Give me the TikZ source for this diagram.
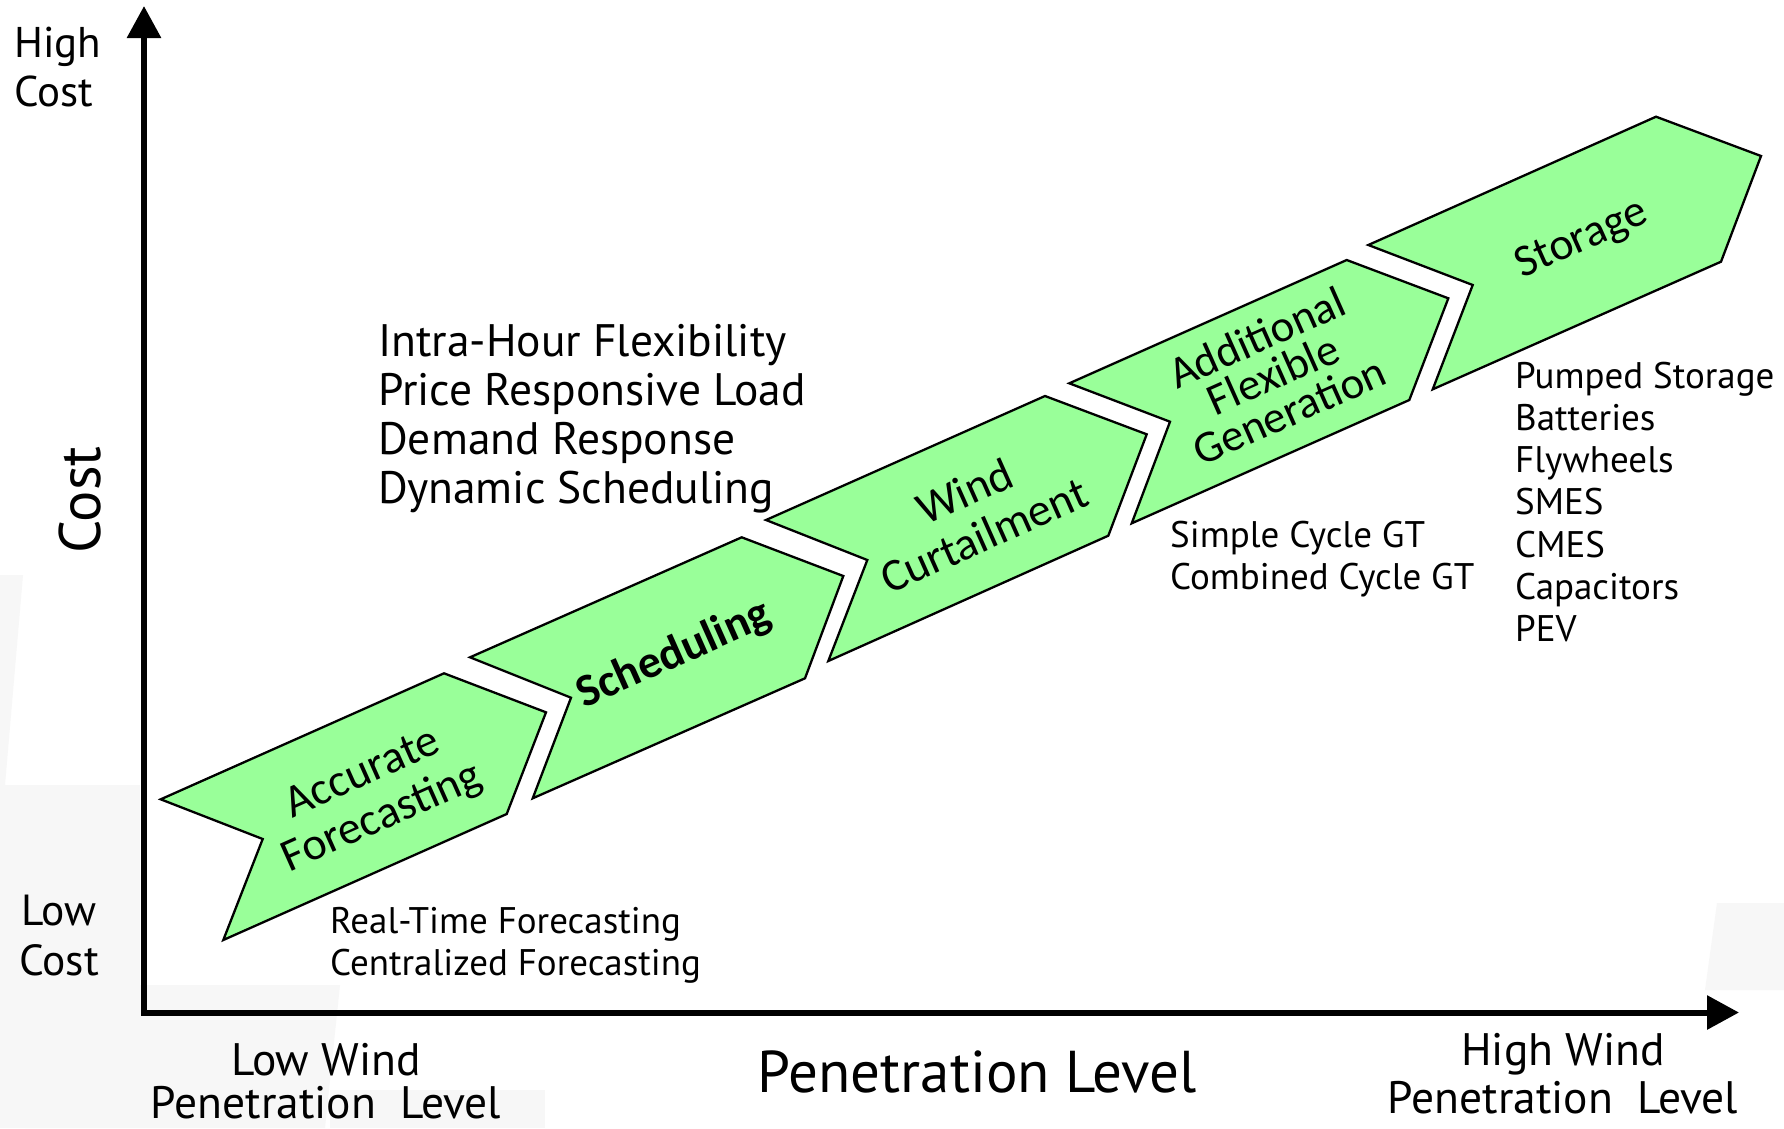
\documentclass[tikz,border=0pt]{standalone}
\usepackage{fontspec}
\setmainfont{PT Sans}
\newfontfamily\chevfont{Carlito}
\usetikzlibrary{arrows.meta}
\definecolor{chevgreen}{RGB}{153,255,153}
\definecolor{faint}{RGB}{247,247,247}
\begin{document}
\begin{tikzpicture}[x=1pt,y=-1pt,
  chevron/.style={draw=black, line width=2.3pt, fill=chevgreen, line join=miter},
  axisline/.style={line width=6pt, line join=miter,
     {Triangle[length=32pt,width=33pt]}-{Triangle[length=32pt,width=33pt]}},
  body/.style={font=\fontsize{45.5}{49}\selectfont, inner sep=0pt},
  small/.style={font=\fontsize{37}{42}\selectfont, inner sep=0pt},
  chevlabel/.style={font=\chevfont\fontsize{46}{48}\selectfont, rotate=24, align=center, inner sep=0pt},
  bgshape/.style={fill=faint, draw=none}
]
\useasboundingbox[fill=white] (0,0) rectangle (1784,1128);

% faint background shapes
\fill[bgshape] (0,575) -- (23,575) -- (5,785) -- (0,785) -- cycle;
\fill[bgshape] (0,785) -- (140,785) -- (140,1128) -- (0,1128) -- cycle;
\fill[bgshape] (47,985) -- (340,985) -- (325,1128) -- (25,1128) -- cycle;
\fill[bgshape] (330,1090) -- (545,1090) -- (545,1128) -- (330,1128) -- cycle;
\fill[bgshape] (1717,903) -- (1784,903) -- (1784,990) -- (1705,990) -- cycle;

% axes
\coordinate (ytop) at (144,6);
\coordinate (origin) at (144,1012.5);
\coordinate (xend) at (1739,1012.5);
\draw[axisline] (ytop) -- (origin) -- (xend);

% chevrons
\draw[chevron] (223.3,940) -- (262.7,839) -- (160.7,799.3) -- (444,673.3) -- (546,712.3) -- (506.7,814) -- cycle;
\draw[chevron] (532.7,798.3) -- (571,697.7) -- (470,657.3) -- (741.7,537.3) -- (843.3,576) -- (805,678.3) -- cycle;
\draw[chevron] (828.3,661) -- (867.3,560) -- (766,520) -- (1045,396) -- (1146.7,434.3) -- (1108.3,535.7) -- cycle;
\draw[chevron] (1131.7,523.3) -- (1170,421.7) -- (1069.3,383.3) -- (1346.7,260) -- (1448.3,298.3) -- (1409.3,400) -- cycle;
\draw[chevron] (1432.7,389.3) -- (1472.7,285) -- (1368.3,245) -- (1656,116.7) -- (1761,156) -- (1721,261.7) -- cycle;

% chevron labels
\node[chevlabel] (labacc) at (373,797) {Accurate\\Forecasting};
\node[chevlabel, font=\chevfont\bfseries\fontsize{46}{48}\selectfont] (labsch) at (674,655) {Scheduling};
\node[chevlabel] (labwind) at (974,513) {Wind\\Curtailment};
\node[chevlabel, font=\chevfont\fontsize{45}{40}\selectfont] (labgen) at (1273,374) {Additional\\Flexible\\Generation};
\node[chevlabel, font=\chevfont\fontsize{45.5}{48}\selectfont] (labsto) at (1582,240) {Storage};

% axis labels
\node[body, font=\fontsize{43}{49}\selectfont, anchor=base west] (high1) at (14,57) {High};
\node[body, font=\fontsize{43}{49}\selectfont, anchor=base west] (high2) at (14,106) {Cost};
\node[body, font=\fontsize{43.5}{49}\selectfont, anchor=base] (low1) at (59,925) {Low};
\node[body, font=\fontsize{43.5}{49}\selectfont, anchor=base] (low2) at (59,975) {Cost};
\node[body, font=\fontsize{58.5}{64}\selectfont, rotate=90] (costlab) at (80,500) {Cost};
\node[body, font=\fontsize{59}{64}\selectfont, anchor=base] (penlab) at (977,1092) {Penetration Level};
\node[body, anchor=base] (lw1) at (326,1075) {Low Wind};
\node[body, anchor=base] (lw2) at (326,1118) {Penetration\ \ Level};
\node[body, anchor=base] (hw1) at (1563,1065) {High Wind};
\node[body, anchor=base] (hw2) at (1563,1113) {Penetration\ \ Level};

% scheduling list
\node[body, anchor=base west] (sl1) at (378,356) {Intra-Hour Flexibility};
\node[body, anchor=base west] (sl2) at (378,405) {Price Responsive Load};
\node[body, anchor=base west] (sl3) at (378,454) {Demand Response};
\node[body, anchor=base west] (sl4) at (378,503) {Dynamic Scheduling};

% forecasting list
\node[small, anchor=base west] (fc1) at (330,933) {Real-Time Forecasting};
\node[small, anchor=base west] (fc2) at (330,975) {Centralized Forecasting};

% generation list
\node[small, anchor=base west] (gt1) at (1170,547) {Simple Cycle GT};
\node[small, anchor=base west] (gt2) at (1170,589) {Combined Cycle GT};

% storage list
\node[small, anchor=base west] (st1) at (1515,388) {Pumped Storage};
\node[small, anchor=base west] (st2) at (1515,430.3) {Batteries};
\node[small, anchor=base west] (st3) at (1515,472.6) {Flywheels};
\node[small, anchor=base west] (st4) at (1515,514.9) {SMES};
\node[small, anchor=base west] (st5) at (1515,557.2) {CMES};
\node[small, anchor=base west] (st6) at (1515,599.5) {Capacitors};
\node[small, anchor=base west] (st7) at (1515,641.8) {PEV};
\end{tikzpicture}
\end{document}
